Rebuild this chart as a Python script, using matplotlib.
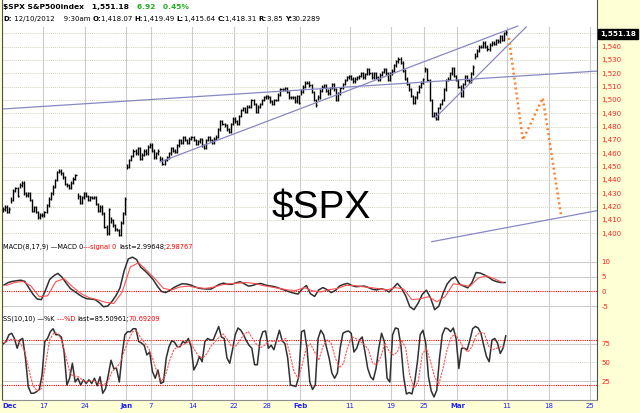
import numpy as np
import matplotlib.pyplot as plt
from matplotlib.collections import LineCollection

W, H = 640, 413
BG = '#ffffd5'

# x unit = trading day, 0 = Dec 10 2012 ... 60 = Mar 8 2013
# $SPX intraday readings, four per day
spx = [
    1418, 1420, 1416, 1418.5,   # Dec 10
    1425, 1432, 1434, 1428,
    1436, 1438, 1430, 1428.5,
    1430, 1425, 1417, 1419.5,
    1416, 1412, 1414, 1413.5,
    1416, 1421, 1426, 1430,     # Dec 17
    1435, 1440, 1446, 1447,
    1445, 1442, 1437, 1436,
    1434, 1438, 1441, 1443.5,
    1428, 1423, 1427, 1430,
    1428, 1425, 1427, 1426.5,   # Dec 24
    1427, 1422, 1417, 1420,
    1415, 1405, 1400, 1418,
    1410, 1406, 1403, 1402.5,
    1399, 1408, 1415, 1426,     # Dec 31
    1450, 1455, 1458, 1462,     # Jan 2
    1460, 1464, 1456, 1459,
    1462, 1460, 1465, 1466.5,
    1462, 1457, 1460, 1462,     # Jan 7
    1456, 1452, 1455, 1457,
    1460, 1464, 1462, 1461,
    1466, 1470, 1468, 1472,
    1470, 1468, 1471, 1472,
    1470, 1467, 1469, 1470.5,   # Jan 14
    1466, 1464, 1470, 1472,
    1470, 1468, 1471, 1472.5,
    1478, 1484, 1482, 1481,
    1478, 1476, 1482, 1486,
    1484, 1482, 1488, 1492.5,   # Jan 22
    1494, 1491, 1495, 1495,
    1500, 1497, 1491, 1495,
    1497, 1500, 1502, 1503,
    1502, 1499, 1497, 1500,     # Jan 28
    1500, 1504, 1508, 1508,
    1509, 1506, 1502, 1502,
    1502, 1499, 1503, 1498,
    1506, 1510, 1513, 1513,     # Feb 1
    1511, 1506, 1500, 1496,     # Feb 4
    1502, 1507, 1510, 1511,
    1507, 1505, 1509, 1512,
    1508, 1500, 1505, 1509,
    1512, 1515, 1517, 1518,
    1516, 1514, 1516, 1517,     # Feb 11
    1518, 1520, 1517, 1519.5,
    1523, 1520, 1517, 1520,
    1517, 1515, 1519, 1521,
    1523, 1520, 1515, 1520,
    1522, 1526, 1529, 1531,     # Feb 19
    1528, 1522, 1516, 1512,
    1508, 1503, 1498, 1502,
    1506, 1510, 1513, 1515.5,
    1523, 1515, 1500, 1488,     # Feb 25
    1490, 1486, 1494, 1497,
    1500, 1508, 1515, 1516,
    1520, 1524, 1518, 1515,
    1510, 1503, 1512, 1518,     # Mar 1
    1515, 1514, 1520, 1525,     # Mar 4
    1533, 1537, 1540, 1540,
    1543, 1540, 1538, 1541.5,
    1543, 1542, 1545, 1544,
    1548, 1545, 1550, 1551.2,
]

# MACD(8,17,9), two readings per day
macd = [
    2.2, 3.0, 3.4, 3.6, 3.8, 3.4, 1.2, -1.0, -2.6, -2.8,
    0.4, 4.0, 5.3, 6.1, 4.8, 2.8, 1.0, 0.0, -1.0, -1.9,
    -2.5, -2.6, -2.8, -3.8, -5.2, -5.0, -3.5, -1.5, 1.2, 7.0,
    11.0, 11.6, 10.8, 8.2, 7.0, 5.6, 4.0, 1.8, 0.0, -0.4,
    0.3, 1.3, 2.0, 2.6, 2.5, 2.2, 1.6, 1.1, 0.9, 0.8,
    0.8, 1.6, 2.4, 2.8, 2.4, 2.4, 2.9, 3.3, 2.6, 1.8,
    2.0, 2.5, 2.7, 2.2, 1.9, 1.7, 1.3, 0.8, 0.3, -0.2,
    -0.6, -0.9, 0.8, 2.0, -0.8, -1.7, 0.5, 1.3, 0.6, -0.4,
    0.3, 1.8, 2.4, 2.7, 2.0, 1.6, 1.7, 1.8, 1.3, 0.7,
    0.5, 0.9, 0.6, -0.2, 1.2, 2.7, 1.0, -1.5, -5.2, -6.2,
    -4.0, -1.0, 0.4, -2.2, -6.2, -5.0, -0.7, 2.5, 4.2, 4.9,
    2.5, 1.8, 1.2, 3.0, 6.4, 6.2, 5.6, 4.8, 3.8, 3.3,
    3.0, 3.0,
]
# signal line, one reading per day
signal = [
    2.0, 3.0, 3.4, 1.8, -1.8, -1.5, 3.3, 4.3, 1.6, -0.7,
    -2.1, -2.8, -3.7, -4.1, -0.3, 8.3, 9.7, 7.0, 4.2, 1.0,
    0.5, 1.5, 1.8, 1.3, 1.0, 1.4, 2.2, 2.6, 2.8, 3.0,
    2.7, 2.0, 1.5, 1.0, 0.5, 0.3, 1.3, 0.2, -0.2, 0.6,
    1.0, 2.0, 2.0, 1.6, 1.3, 0.9, 0.5, 1.3, 0.8, -2.8,
    -2.5, -1.8, -3.5, -1.8, 2.6, 2.2, 1.7, 4.5, 5.3, 4.2,
    3.0,
]

# SS(10,10) %K, three readings per day
pct_k = [
    75, 78, 87, 89, 82, 69, 80, 82, 56, 18,
    9, 9, 11, 14, 33, 78, 82, 91, 95, 87,
    87, 84, 64, 20, 29, 49, 24, 29, 20, 27,
    22, 27, 22, 29, 19, 31, 9, 15, 33, 53,
    42, 42, 24, 60, 87, 91, 91, 95, 95, 78,
    76, 73, 60, 64, 38, 29, 40, 22, 24, 56,
    71, 79, 77, 71, 71, 78, 76, 82, 71, 40,
    47, 58, 51, 78, 82, 80, 80, 89, 98, 84,
    82, 56, 49, 67, 87, 96, 93, 87, 79, 73,
    69, 47, 47, 80, 91, 92, 69, 73, 67, 80,
    93, 79, 75, 56, 20, 19, 18, 31, 91, 93,
    69, 24, 14, 20, 82, 93, 87, 71, 56, 36,
    29, 36, 69, 89, 91, 92, 89, 64, 69, 80,
    84, 64, 42, 31, 27, 42, 69, 89, 78, 29,
    24, 87, 96, 95, 73, 31, 8, 10, 8, 24,
    51, 87, 93, 76, 31, 12, 4, 13, 56, 87,
    96, 95, 91, 96, 82, 42, 69, 69, 67, 80,
    95, 98, 96, 89, 73, 58, 51, 80, 82, 76,
    62, 69, 85.5,
]
# %D, two readings per day
pct_d = [
    76, 80, 81, 80, 75, 65, 40, 19, 12, 15,
    47, 80, 89, 89, 78, 56, 34, 32, 31, 26,
    24, 26, 25, 22, 20, 24, 37, 43, 49, 65,
    79, 91, 92, 83, 76, 68, 53, 36, 25, 33,
    53, 67, 71, 73, 76, 78, 67, 58, 56, 62,
    72, 78, 84, 88, 80, 71, 72, 80, 88, 91,
    82, 74, 70, 73, 79, 78, 78, 79, 82, 62,
    38, 29, 47, 70, 75, 64, 53, 71, 80, 76,
    56, 43, 49, 71, 84, 82, 78, 74, 67, 49,
    47, 58, 76, 65, 60, 64, 80, 69, 33, 16,
    24, 61, 69, 51, 30, 21, 42, 67, 84, 88,
    79, 69, 64, 71, 86, 90, 89, 72, 67, 69,
    71, 70.7,
]

# trend lines drawn on the price panel: (day, price) end points
trend_lines = [
    ((19.1, 1453.5), (62.3, 1555.5)),
    ((52.3, 1486.5), (63.3, 1554.8)),
    ((0.0, 1493.2), (71.9, 1521.7)),
    ((51.9, 1393.7), (71.9, 1417.0)),
]
# projected path (orange dots)
proj_days = [61.2, 62.9, 65.3, 67.5]
proj_prices = [1546.5, 1470, 1501.5, 1413.7]

date_days = [0, 5, 10, 15, 18, 23, 28, 32, 36, 42, 47, 51, 55, 61, 66, 71]
date_labels = ['Dec', '17', '24', 'Jan', '7', '14', '22', '28', 'Feb',
               '11', '19', '25', 'Mar', '11', '18', '25']
months = ['Dec', 'Jan', 'Feb', 'Mar']

price_ticks = list(range(1400, 1550, 10))
macd_ticks = [10, 5, 0, -5]
ss_ticks = [75, 50, 25]

plt.rcParams['font.family'] = ['DejaVu Sans']
fig = plt.figure(figsize=(W / 100, H / 100), dpi=100, facecolor=BG)


def box(top, bottom, left=2, right=597):
    return [left / W, 1 - bottom / H, (right - left) / W, (bottom - top) / H]


ax_p = fig.add_axes(box(0, 243))
ax_m = fig.add_axes(box(243, 315), sharex=ax_p)
ax_s = fig.add_axes(box(315, 400), sharex=ax_p)

grid_gray = '#cccccc'
dot_grid = '#d6d0c0'
for ax in (ax_p, ax_m, ax_s):
    ax.set_facecolor('white')
    ax.set_xlim(0, 71.85)
    for sp in ('top', 'bottom'):
        ax.spines[sp].set_visible(False)
    ax.spines['left'].set_color('#505050')
    ax.spines['right'].set_color('#505050')
    top = 0.89 if ax is ax_p else 1.0
    for d in date_days:
        ax.axvline(d, ymax=top, color=grid_gray, lw=0.8, zorder=0)
    ax.yaxis.tick_right()
    ax.tick_params(axis='y', length=0, pad=3, labelsize=5, labelcolor='#ff2020')
    ax.tick_params(axis='x', length=0)
ax_s.spines['bottom'].set_visible(True)
ax_s.spines['bottom'].set_color('#909090')

# ---- price panel
ax_p.set_ylim(1392.7, 1575.0)
for p in price_ticks + [1550]:
    ax_p.axhline(p, color=dot_grid, lw=0.7, ls=(0, (1, 1)), zorder=0)
ax_p.set_yticks(price_ticks)
ax_p.set_yticklabels([f'{p:,}' for p in price_ticks])

segs, ticks = [], []
prev = None
for i, v in enumerate(spx):
    x = i // 4 + (i % 4 + 0.5) / 4
    if prev is not None and (i % 4 or abs(v - prev) < 6):
        segs.append([(x, min(prev, v) - 1), (x, max(prev, v) + 1)])
    else:
        segs.append([(x, v - 2), (x, v + 2)])
    ticks.append([(x, v), (x + 0.13, v)])
    prev = v
ax_p.add_collection(LineCollection(segs + ticks, colors='black', lw=1.0))

for (x0, y0), (x1, y1) in trend_lines:
    ax_p.plot([x0, x1], [y0, y1], color='#8888c4', lw=0.9)
ax_p.plot(proj_days, proj_prices, color='#ff8030', lw=1.8,
          ls=(0, (0.8, 1.2)), solid_capstyle='butt')

fig.text(321 / W, 1 - 208 / H, '$SPX', fontsize=28, family='Liberation Sans',
         ha='center', va='center')
fig.text(600 / W, 1 - 34 / H, '1,551.18', fontsize=5.2, fontweight='bold',
         color='white', va='center', ha='left',
         bbox=dict(boxstyle='square,pad=0.25', fc='black', ec='black'))

# ---- MACD panel
ax_m.set_ylim(-8.0, 16.4)
for v in (10, 5, -5):
    ax_m.axhline(v, color=grid_gray, lw=0.8, zorder=0)
ax_m.axhline(0, color='red', lw=0.8, ls=(0, (1, 1)))
ax_m.plot(np.arange(len(macd)) / 2 + 0.25, macd, color='#303030', lw=1.1)
ax_m.plot(np.arange(len(signal)) + 0.5, signal, color='#ff5050', lw=0.8)
ax_m.set_yticks(macd_ticks)
ax_m.set_yticklabels([str(v) for v in macd_ticks])

# ---- SS panel
ax_s.set_ylim(0, 113.3)
for v in (75, 25):
    ax_s.axhline(v, color=grid_gray, lw=0.8, zorder=0)
ax_s.axhline(50, color=dot_grid, lw=0.7, ls=(0, (1, 1)), zorder=0)
for v in (80, 20):
    ax_s.axhline(v, color='red', lw=0.8, ls=(0, (1, 1)))
ax_s.plot(np.arange(len(pct_k)) / 3 + 1 / 6, pct_k, color='#303030', lw=1.1)
ax_s.plot(np.arange(len(pct_d)) / 2 + 0.25, pct_d, color='#ff5050', lw=0.8,
          ls=(0, (2, 1)))
ax_s.set_yticks(ss_ticks)
ax_s.set_yticklabels([str(v) for v in ss_ticks])

ax_s.set_xticks(date_days)
ax_s.set_xticklabels(date_labels)
ax_s.tick_params(axis='x', labelsize=5, labelcolor='#2020ff', pad=2)
for lab in ax_s.get_xticklabels():
    if lab.get_text() in months:
        lab.set_fontweight('bold')
ax_s.get_xticklabels()[0].set_horizontalalignment('left')
plt.setp(ax_p.get_xticklabels(), visible=False)
plt.setp(ax_m.get_xticklabels(), visible=False)

# ---- header / panel captions made of coloured pieces
renderer = fig.canvas.get_renderer()


def pieces(x, y, parts, size):
    for s, color, bold in parts:
        t = fig.text(x / W, 1 - y / H, s, color=color, fontsize=size,
                     fontweight='bold' if bold else 'normal',
                     ha='left', va='center')
        x += t.get_window_extent(renderer).width


green = '#20b020'
pieces(3, 7, [('$SPX S&P500index', 'black', True), ('   1,551.18', 'black', True),
              ('   6.92', green, True), ('   0.45%', green, True)], 5.4)
pieces(3, 19, [('D:', 'black', True), (' 12/10/2012    9:30am ', 'black', False),
               ('O:', 'black', True), ('1,418.07 ', 'black', False),
               ('H:', 'black', True), ('1,419.49 ', 'black', False),
               ('L:', 'black', True), ('1,415.64 ', 'black', False),
               ('C:', 'black', True), ('1,418.31 ', 'black', False),
               ('R:', 'black', True), ('3.85 ', 'black', False),
               ('Y:', 'black', True), ('30.2289', 'black', False)], 5)
pieces(3, 247, [('MACD(8,17,9) \u2014MACD 0', 'black', False),
                ('---signal 0 ', 'red', False),
                ('last=2.99648;', 'black', False), ('2.98767', 'red', False)], 4.8)
pieces(3, 319, [('SS(10,10) \u2014%K ', 'black', False),
                ('---%D ', 'red', False),
                ('last=85.50961;', 'black', False), ('70.69209', 'red', False)], 4.8)

fig.savefig('out.png', dpi=100, facecolor=BG)
